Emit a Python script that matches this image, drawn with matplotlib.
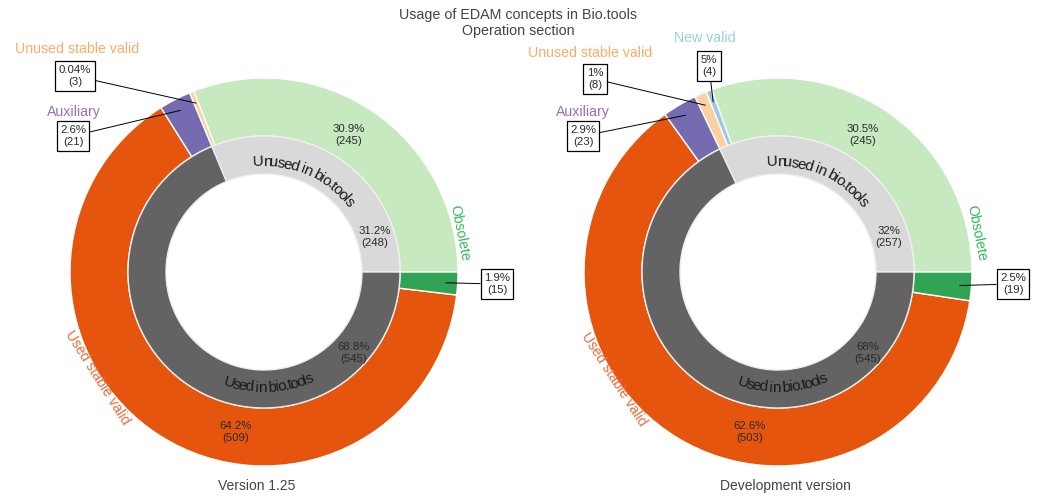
import matplotlib
matplotlib.use("Agg")
import numpy as np
import matplotlib.pyplot as plt
from matplotlib.font_manager import FontProperties, findfont, get_font, fontManager

# ---------------- data ----------------
title = "Usage of EDAM concepts in Bio.tools\nOperation section"
version_names = ["Version 1.25", "Development version"]

outer_cats_v125 = ["Obsolete unused", "Unused stable valid", "Auxiliary", "Used stable valid", "Obsolete used"]
outer_vals_v125 = [245, 3, 21, 509, 15]
outer_pct_v125 = ["30.9%", "0.04%", "2.6%", "64.2%", "1.9%"]

outer_cats_dev = ["Obsolete unused", "New valid", "Unused stable valid", "Auxiliary", "Used stable valid", "Obsolete used"]
outer_vals_dev = [245, 4, 8, 23, 503, 19]
outer_pct_dev = ["30.5%", "5%", "1%", "2.9%", "62.6%", "2.5%"]

inner_cats = ["Unused in bio.tools", "Used in bio.tools"]
inner_vals_v125 = [248, 545]
inner_pct_v125 = ["31.2%", "68.8%"]
inner_vals_dev = [257, 545]
inner_pct_dev = ["32%", "68%"]

# ---------------- styles ----------------
slice_colors = {
    "Obsolete unused": "#c7e9c0",
    "Obsolete used": "#31a354",
    "Used stable valid": "#e6550d",
    "Auxiliary": "#756bb1",
    "Unused stable valid": "#fdd0a2",
    "New valid": "#9ecae1",
    "Unused in bio.tools": "#d9d9d9",
    "Used in bio.tools": "#636363",
}
name_colors = {
    "Obsolete": "#38b858",
    "Used stable valid": "#ee6a3c",
    "Auxiliary": "#9070c0",
    "Unused stable valid": "#fdab68",
    "New valid": "#9ecae1",
}

FONT = "Liberation Sans"
plt.rcParams["font.family"] = [FONT, "DejaVu Sans"]

_names = {f.name for f in fontManager.ttflist}
if "Liberation Sans Narrow" in _names:
    CURVE_FONT, CURVE_SCALE = "Liberation Sans Narrow", 1.0
else:
    CURVE_FONT, CURVE_SCALE = "Liberation Sans", 0.82

W, H = 1040, 498
fig = plt.figure(figsize=(W / 100, H / 100), dpi=100)
ax = fig.add_axes([0, 0, 1, 1])

R_OUT, W_OUT = 194, 58
R_IN, W_IN = 136, 38


def curved_text(ax, text, center, radius, mid_deg, size_pt, top=True, color="#1a1a1a"):
    fp = FontProperties(family=CURVE_FONT, size=size_pt)
    font = get_font(findfont(fp))
    font.set_size(size_pt, 100)
    adv = []
    for c in text:
        g = font.load_char(ord(c))
        adv.append(g.linearHoriAdvance / 65536.0 * CURVE_SCALE)
    adv = np.array(adv)
    total = adv.sum()
    starts = np.concatenate([[0], np.cumsum(adv)[:-1]])
    s = starts + adv / 2 - total / 2
    mid = np.deg2rad(mid_deg)
    for c, si in zip(text, s):
        if c == " ":
            continue
        th = mid - si / radius if top else mid + si / radius
        x = center[0] + radius * np.cos(th)
        y = center[1] + radius * np.sin(th)
        rot = np.rad2deg(th) - 90 if top else np.rad2deg(th) + 90
        ax.text(x, y, c, fontsize=size_pt, family=CURVE_FONT, rotation=rot,
                rotation_mode="anchor", ha="center", va="baseline", color=color)


def donut(ax, center, outer_cats, outer_vals, outer_pct, inner_vals, inner_pct, lay):
    cx, cy = center
    ow, _ = ax.pie(outer_vals, radius=R_OUT, center=center, startangle=0, counterclock=True,
                   colors=[slice_colors[c] for c in outer_cats],
                   wedgeprops=dict(width=W_OUT, edgecolor="white", linewidth=1))
    iw, _ = ax.pie(inner_vals, radius=R_IN, center=center, startangle=0, counterclock=True,
                   colors=[slice_colors[c] for c in inner_cats],
                   wedgeprops=dict(width=W_IN, edgecolor="#eeeeee", linewidth=1))

    lbl = lambda s, v: f"{s}\n({v})"
    big = {"Obsolete unused": lay["green_pct"], "Used stable valid": lay["orange_pct"]}
    for cat, val, pct in zip(outer_cats, outer_vals, outer_pct):
        if cat in big:
            dx, dy = big[cat]
            ax.text(cx + dx, cy + dy, lbl(pct, val), ha="center", va="center",
                    fontsize=8.2, color="#2a2a2a", linespacing=1.2)
    for (dx, dy), val, pct in zip([lay["unused_pct"], lay["used_pct"]], inner_vals, inner_pct):
        ax.text(cx + dx, cy + dy, lbl(pct, val), ha="center", va="center",
                fontsize=8.2, color="#2a2a2a", linespacing=1.2)

    for w, cat, val, pct in zip(ow, outer_cats, outer_vals, outer_pct):
        if cat not in lay["boxes"]:
            continue
        th = np.deg2rad((w.theta1 + w.theta2) / 2)
        ar = R_OUT - 12
        ax_, ay_ = cx + ar * np.cos(th), cy + ar * np.sin(th)
        bx, by = lay["boxes"][cat]
        ax.annotate(lbl(pct, val), xy=(ax_, ay_), xytext=(cx + bx, cy + by),
                    textcoords="data", ha="center", va="center", fontsize=8.2,
                    color="#2a2a2a", linespacing=1.3,
                    bbox=dict(boxstyle="square,pad=0.3", fc="white", ec="black", lw=0.9),
                    arrowprops=dict(arrowstyle="-", color="black", lw=0.7,
                                    shrinkA=0, shrinkB=0))

    for name, (dx, dy, rot) in lay["names"].items():
        ax.text(cx + dx, cy + dy, name, ha="center", va="center", rotation=rot,
                rotation_mode="anchor", fontsize=10.2, color=name_colors[name])

    curved_text(ax, inner_cats[0], center, 106, 66.5, 11, top=True)
    curved_text(ax, inner_cats[1], center, 120, -87.5, 11, top=False)


common = dict(green_pct=(85, 137), orange_pct=(-28, -160), unused_pct=(111, 35), used_pct=(90, -81))
lay_v125 = dict(common,
                boxes={"Unused stable valid": (-189, 196), "Auxiliary": (-191, 136),
                       "Obsolete used": (233, -12)},
                names={"Unused stable valid": (-187, 223, 0), "Auxiliary": (-190, 160, 0),
                       "Obsolete": (196, 39, -79), "Used stable valid": (-167, -106, -57.6)})
lay_dev = dict(common,
               boxes={"Unused stable valid": (-183, 193), "New valid": (-69, 206),
                      "Auxiliary": (-195, 136), "Obsolete used": (235, -12)},
               names={"Unused stable valid": (-188, 219, 0), "New valid": (-73, 234, 0),
                      "Auxiliary": (-195, 160, 0), "Obsolete": (199, 39, -79),
                      "Used stable valid": (-164, -107, -57)})

donut(ax, (264, 226), outer_cats_v125, outer_vals_v125, outer_pct_v125,
      inner_vals_v125, inner_pct_v125, lay_v125)
donut(ax, (778, 226), outer_cats_dev, outer_vals_dev, outer_pct_dev,
      inner_vals_dev, inner_pct_dev, lay_dev)

ax.text(518, H - 23, title, ha="center", va="center", fontsize=10.3, color="#444444",
        linespacing=1.15)
ax.text(257, H - 486, version_names[0], ha="center", va="center", fontsize=10, color="#444444")
ax.text(785, H - 486, version_names[1], ha="center", va="center", fontsize=10, color="#444444")

ax.set_xlim(0, W)
ax.set_ylim(0, H)
ax.set_aspect("equal")
ax.axis("off")
fig.savefig("out.png", dpi=100)
